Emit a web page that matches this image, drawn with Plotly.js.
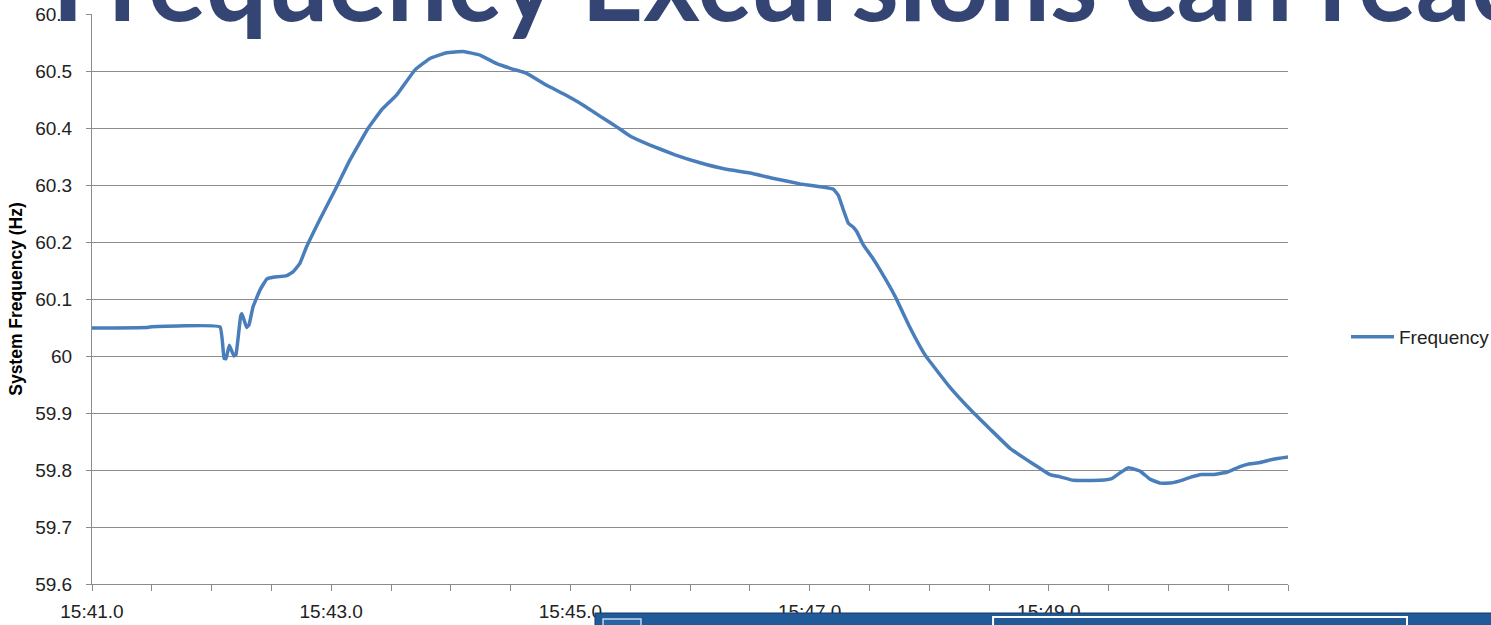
<!DOCTYPE html>
<html>
<head>
<meta charset="utf-8">
<script src="https://cdn.plot.ly/plotly-3.0.1.min.js"></script>
<style>html,body{margin:0;padding:0;background:#fff;}#chart{width:1491px;height:625px;}</style>
</head>
<body>
<div id="chart"></div>
<script>
// Time in minutes past 15:00 (decimal), frequency in Hz
const timeMin = [41.000, 41.460, 41.485, 42.070, 42.104, 42.120, 42.148, 42.187, 42.204, 42.243, 42.254, 42.293, 42.313, 42.346, 42.405, 42.461, 42.516, 42.628, 42.683, 42.739, 42.795, 42.906, 43.046, 43.157, 43.310, 43.422, 43.548, 43.701, 43.826, 43.966, 44.104, 44.244, 44.384, 44.523, 44.634, 44.802, 44.941, 45.108, 45.275, 45.387, 45.498, 45.666, 45.875, 46.084, 46.293, 46.502, 46.711, 46.920, 47.196, 47.240, 47.283, 47.324, 47.366, 47.395, 47.449, 47.520, 47.589, 47.714, 47.839, 47.965, 48.174, 48.358, 48.508, 48.676, 48.801, 48.926, 49.010, 49.094, 49.205, 49.428, 49.526, 49.595, 49.665, 49.763, 49.846, 49.930, 50.013, 50.097, 50.181, 50.278, 50.375, 50.487, 50.599, 50.682, 50.766, 50.877, 51.000];
const frequencyHz = [60.049, 60.050, 60.051, 60.051, 59.996, 59.995, 60.019, 60.000, 60.003, 60.070, 60.074, 60.050, 60.055, 60.086, 60.116, 60.135, 60.138, 60.141, 60.148, 60.163, 60.192, 60.240, 60.297, 60.344, 60.400, 60.432, 60.458, 60.502, 60.522, 60.532, 60.534, 60.528, 60.513, 60.503, 60.496, 60.475, 60.460, 60.440, 60.417, 60.402, 60.386, 60.370, 60.353, 60.339, 60.328, 60.321, 60.311, 60.302, 60.293, 60.282, 60.256, 60.233, 60.226, 60.218, 60.195, 60.174, 60.151, 60.105, 60.050, 60.002, 59.945, 59.903, 59.872, 59.838, 59.820, 59.803, 59.792, 59.788, 59.782, 59.782, 59.785, 59.795, 59.804, 59.798, 59.784, 59.777, 59.777, 59.781, 59.787, 59.792, 59.792, 59.796, 59.806, 59.811, 59.813, 59.819, 59.823];

const xTickVals = [41, 43, 45, 47, 49];
const xTickText = ['15:41.0', '15:43.0', '15:45.0', '15:47.0', '15:49.0'];
const yTickVals = [59.6, 59.7, 59.8, 59.9, 60.0, 60.1, 60.2, 60.3, 60.4, 60.5, 60.6];
const yTickText = ['59.6', '59.7', '59.8', '59.9', '60', '60.1', '60.2', '60.3', '60.4', '60.5', '60.6'];
const seriesName = 'Frequency';
const titleText = 'Frequency Excursions can reach';
const yTitleText = 'System Frequency (Hz)';

const trace = {
  x: timeMin, y: frequencyHz, type: 'scatter', mode: 'lines', name: seriesName,
  line: {color: 'rgb(74,126,187)', width: 3.5, shape: 'spline', smoothing: 0.3}
};

const layout = {
  width: 1491, height: 625,
  margin: {l: 92, r: 203, t: 14, b: 41, autoexpand: false},
  paper_bgcolor: '#ffffff', plot_bgcolor: '#ffffff',
  font: {family: '"Liberation Sans", Arial, sans-serif', size: 19, color: '#222'},
  showlegend: true,
  legend: {x: 1.0485, xanchor: 'left', y: 0.4333, yanchor: 'middle', font: {size: 19, color: '#222'}, itemwidth: 43, bgcolor: 'rgba(0,0,0,0)'},
  xaxis: {
    range: [41, 51], tickmode: 'array', tickvals: xTickVals, ticktext: xTickText,
    showgrid: false, zeroline: false, showline: true, linecolor: '#8c8c8c', linewidth: 1,
    ticks: 'outside', ticklen: 6, tickcolor: '#8c8c8c',
    minor: {tick0: 41, dtick: 0.5, ticks: 'outside', ticklen: 6, tickcolor: '#8c8c8c', showgrid: false},
    tickfont: {size: 19, color: '#222'}, ticklabelstandoff: 4
  },
  yaxis: {
    range: [59.6, 60.6], tickmode: 'array', tickvals: yTickVals, ticktext: yTickText,
    showgrid: true, gridcolor: '#8c8c8c', gridwidth: 1, zeroline: false,
    showline: true, linecolor: '#8c8c8c', linewidth: 1,
    ticks: 'outside', ticklen: 5, tickcolor: '#8c8c8c',
    tickfont: {size: 19, color: '#222'}, ticklabelstandoff: 10,
    title: {text: yTitleText, font: {size: 17.5, color: '#000', weight: 'bold'}, standoff: 8}
  },
  annotations: [{
    text: titleText, xref: 'paper', yref: 'paper', x: -0.035, y: 1.061,
    xanchor: 'left', yanchor: 'middle', showarrow: false,
    font: {family: 'Lato, "Open Sans", sans-serif', size: 108.5, color: 'rgb(52,69,115)', weight: 'bold'}
  }],
  shapes: [
    {type: 'rect', xref: 'paper', yref: 'paper', x0: 0.42057, x1: 1.2, y0: -0.2, y1: -0.0509,
     fillcolor: 'rgb(32,90,152)', line: {color: 'rgb(22,55,100)', width: 1}, layer: 'above'},
    {type: 'rect', xref: 'paper', yref: 'paper', x0: 0.4273, x1: 0.4590, y0: -0.14, y1: -0.0614,
     fillcolor: 'rgb(40,100,165)', line: {color: 'rgb(200,215,235)', width: 1.5}, layer: 'above'},
    {type: 'rect', xref: 'paper', yref: 'paper', x0: 0.7534, x1: 1.0995, y0: -0.14, y1: -0.0579,
     fillcolor: 'rgb(32,90,152)', line: {color: '#ffffff', width: 2}, layer: 'above'}
  ]
};

Plotly.newPlot('chart', [trace], layout, {displayModeBar: false, responsive: false});
</script>
</body>
</html>
